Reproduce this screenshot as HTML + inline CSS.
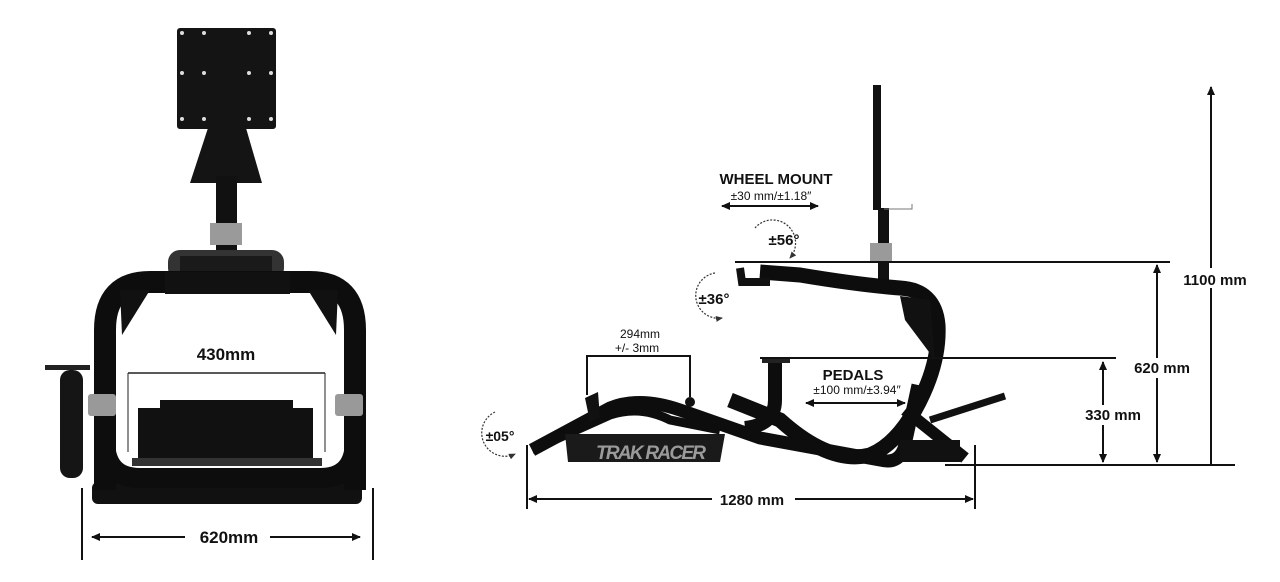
<!DOCTYPE html>
<html><head><meta charset="utf-8"><style>
html,body{margin:0;padding:0;background:#fff;}
svg{display:block;}
text{font-family:"Liberation Sans",sans-serif;fill:#111;}
</style></head><body>
<svg width="1280" height="582" viewBox="0 0 1280 582" xmlns="http://www.w3.org/2000/svg">
<defs>
<marker id="ah" markerWidth="10" markerHeight="10" refX="8" refY="5" orient="auto-start-reverse" markerUnits="userSpaceOnUse">
<path d="M0,1 L9,5 L0,9 Z" fill="#111"/></marker>
<marker id="sa" markerWidth="8" markerHeight="8" refX="6" refY="4" orient="auto" markerUnits="userSpaceOnUse">
<path d="M0,1 L7,4 L0,7 Z" fill="#333"/></marker>
</defs>

<!-- LEFT FRONT VIEW -->
<rect x="177" y="28" width="99" height="101" rx="3" fill="#141414"/>
<g fill="#ddd"><circle cx="182" cy="33" r="2"/><circle cx="204" cy="33" r="2"/><circle cx="249" cy="33" r="2"/><circle cx="271" cy="33" r="2"/>
<circle cx="182" cy="73" r="2"/><circle cx="204" cy="73" r="2"/><circle cx="249" cy="73" r="2"/><circle cx="271" cy="73" r="2"/>
<circle cx="182" cy="119" r="2"/><circle cx="204" cy="119" r="2"/><circle cx="249" cy="119" r="2"/><circle cx="271" cy="119" r="2"/></g>
<polygon points="208,128 246,128 262,183 190,183" fill="#141414"/>
<rect x="216" y="176" width="21" height="118" fill="#111"/>
<rect x="210" y="223" width="32" height="22" fill="#9a9a9a"/>
<rect x="168" y="250" width="116" height="30" rx="12" fill="#333"/>
<rect x="180" y="256" width="92" height="26" fill="#1a1a1a"/>
<rect x="92" y="482" width="270" height="22" rx="6" fill="#111"/>
<path d="M105,490 L105,330 Q105,282 150,282 L310,282 Q355,282 355,330 L355,490" fill="none" stroke="#0d0d0d" stroke-width="22"/>
<path d="M105,440 Q105,478 140,478 L320,478 Q355,478 355,440" fill="none" stroke="#0d0d0d" stroke-width="20"/>
<rect x="165" y="272" width="125" height="22" fill="#111"/>
<polygon points="120,290 150,290 122,335" fill="#111"/>
<polygon points="338,290 308,290 336,335" fill="#111"/>
<rect x="88" y="394" width="28" height="22" rx="3" fill="#999"/>
<rect x="335" y="394" width="28" height="22" rx="3" fill="#999"/>
<rect x="160" y="400" width="133" height="10" fill="#111"/>
<rect x="138" y="408" width="175" height="52" fill="#111"/>
<rect x="132" y="458" width="190" height="8" fill="#333"/>
<rect x="45" y="365" width="45" height="5" fill="#222"/>
<rect x="60" y="370" width="23" height="108" rx="10" fill="#151515"/>
<line x1="128" y1="373" x2="325" y2="373" stroke="#222" stroke-width="1.5"/>
<line x1="128" y1="373" x2="128" y2="452" stroke="#222" stroke-width="1"/>
<line x1="325" y1="373" x2="325" y2="452" stroke="#222" stroke-width="1"/>
<text x="226" y="360" font-size="17" font-weight="bold" text-anchor="middle">430mm</text>
<line x1="82" y1="488" x2="82" y2="560" stroke="#111" stroke-width="2"/>
<line x1="373" y1="488" x2="373" y2="560" stroke="#111" stroke-width="2"/>
<line x1="92" y1="537" x2="185" y2="537" stroke="#111" stroke-width="2" marker-start="url(#ah)"/>
<line x1="270" y1="537" x2="360" y2="537" stroke="#111" stroke-width="2" marker-end="url(#ah)"/>
<text x="229" y="543" font-size="17" font-weight="bold" text-anchor="middle">620mm</text>

<!-- RIGHT SIDE VIEW -->
<rect x="873" y="85" width="8" height="125" fill="#111"/>
<rect x="878" y="208" width="11" height="78" fill="#111"/>
<rect x="870" y="243" width="22" height="19" fill="#9a9a9a"/>
<polyline points="884,209 912,209 912,204" fill="none" stroke="#777" stroke-width="1"/>
<path d="M760,272 L800,275 Q860,285 900,288 Q935,290 938,325 Q940,365 915,410 Q895,445 870,455 Q830,465 780,420 L730,400" fill="none" stroke="#0d0d0d" stroke-width="15"/>
<polygon points="900,296 930,300 935,360 905,320" fill="#111"/>
<path d="M740,268 L742,282 L770,282" fill="none" stroke="#111" stroke-width="8"/>
<path d="M775,362 L775,400 Q775,425 745,428" fill="none" stroke="#0d0d0d" stroke-width="14"/>
<rect x="762" y="358" width="28" height="5" fill="#222"/>
<path d="M532,450 L610,408 Q640,396 680,410 L760,438 L880,460 Q900,465 905,445 L918,385" fill="none" stroke="#0d0d0d" stroke-width="13"/>
<path d="M532,450 L610,415 Q640,405 670,420 L720,430" fill="none" stroke="#0d0d0d" stroke-width="9"/>
<path d="M905,410 L965,458" fill="none" stroke="#0d0d0d" stroke-width="12"/>
<path d="M930,420 L1005,396" fill="none" stroke="#111" stroke-width="7"/>
<rect x="900" y="440" width="60" height="22" fill="#111"/>
<polygon points="565,434 725,434 720,462 568,462" fill="#1a1a1a"/>
<polygon points="585,398 598,392 600,418 590,422" fill="#111"/>
<circle cx="690" cy="402" r="5" fill="#111"/>
<text x="651" y="459" font-size="19" font-weight="bold" font-style="italic" text-anchor="middle" style="fill:#9a9a9a" textLength="110">TRAK RACER</text>
<line x1="735" y1="262" x2="1170" y2="262" stroke="#111" stroke-width="2"/>
<line x1="760" y1="358" x2="1116" y2="358" stroke="#111" stroke-width="2"/>
<line x1="945" y1="465" x2="1235" y2="465" stroke="#111" stroke-width="2"/>
<line x1="1211" y1="465" x2="1211" y2="87" stroke="#111" stroke-width="2" marker-end="url(#ah)"/>
<line x1="1157" y1="462" x2="1157" y2="265" stroke="#111" stroke-width="2" marker-start="url(#ah)" marker-end="url(#ah)"/>
<line x1="1103" y1="462" x2="1103" y2="362" stroke="#111" stroke-width="2" marker-start="url(#ah)" marker-end="url(#ah)"/>
<rect x="1178" y="268" width="74" height="20" fill="#fff"/>
<text x="1215" y="285" font-size="15" font-weight="bold" text-anchor="middle">1100 mm</text>
<rect x="1128" y="358" width="68" height="20" fill="#fff"/>
<text x="1162" y="373" font-size="15" font-weight="bold" text-anchor="middle">620 mm</text>
<rect x="1078" y="405" width="68" height="20" fill="#fff"/>
<text x="1113" y="420" font-size="15" font-weight="bold" text-anchor="middle">330 mm</text>
<text x="776" y="184" font-size="15" font-weight="bold" text-anchor="middle">WHEEL MOUNT</text>
<text x="771" y="200" font-size="12" text-anchor="middle">±30 mm/±1.18″</text>
<line x1="722" y1="206" x2="818" y2="206" stroke="#111" stroke-width="2" marker-start="url(#ah)" marker-end="url(#ah)"/>
<text x="853" y="380" font-size="15" font-weight="bold" text-anchor="middle">PEDALS</text>
<text x="857" y="394" font-size="12" text-anchor="middle">±100 mm/±3.94″</text>
<line x1="806" y1="403" x2="905" y2="403" stroke="#111" stroke-width="2" marker-start="url(#ah)" marker-end="url(#ah)"/>
<text x="640" y="338" font-size="12" text-anchor="middle">294mm</text>
<text x="637" y="352" font-size="12" text-anchor="middle">+/- 3mm</text>
<polyline points="587,395 587,356 690,356 690,397" fill="none" stroke="#111" stroke-width="2"/>
<path d="M755,228 A20,20 0 1 1 790,258" fill="none" stroke="#333" stroke-width="1.2" stroke-dasharray="2,1.5" marker-end="url(#sa)"/>
<text x="784" y="245" font-size="15" font-weight="bold" text-anchor="middle">±56°</text>
<path d="M715,273 A22,22 0 0 0 722,318" fill="none" stroke="#333" stroke-width="1.2" stroke-dasharray="2,1.5" marker-end="url(#sa)"/>
<text x="714" y="304" font-size="15" font-weight="bold" text-anchor="middle">±36°</text>
<path d="M495,412 A22,22 0 0 0 515,454" fill="none" stroke="#333" stroke-width="1.2" stroke-dasharray="2,1.5" marker-end="url(#sa)"/>
<text x="500" y="441" font-size="14" font-weight="bold" text-anchor="middle">±05°</text>
<line x1="527" y1="445" x2="527" y2="509" stroke="#111" stroke-width="2"/>
<line x1="975" y1="445" x2="975" y2="509" stroke="#111" stroke-width="2"/>
<line x1="529" y1="499" x2="712" y2="499" stroke="#111" stroke-width="2" marker-start="url(#ah)"/>
<line x1="795" y1="499" x2="973" y2="499" stroke="#111" stroke-width="2" marker-end="url(#ah)"/>
<text x="752" y="505" font-size="15" font-weight="bold" text-anchor="middle">1280 mm</text>
</svg>
</body></html>
